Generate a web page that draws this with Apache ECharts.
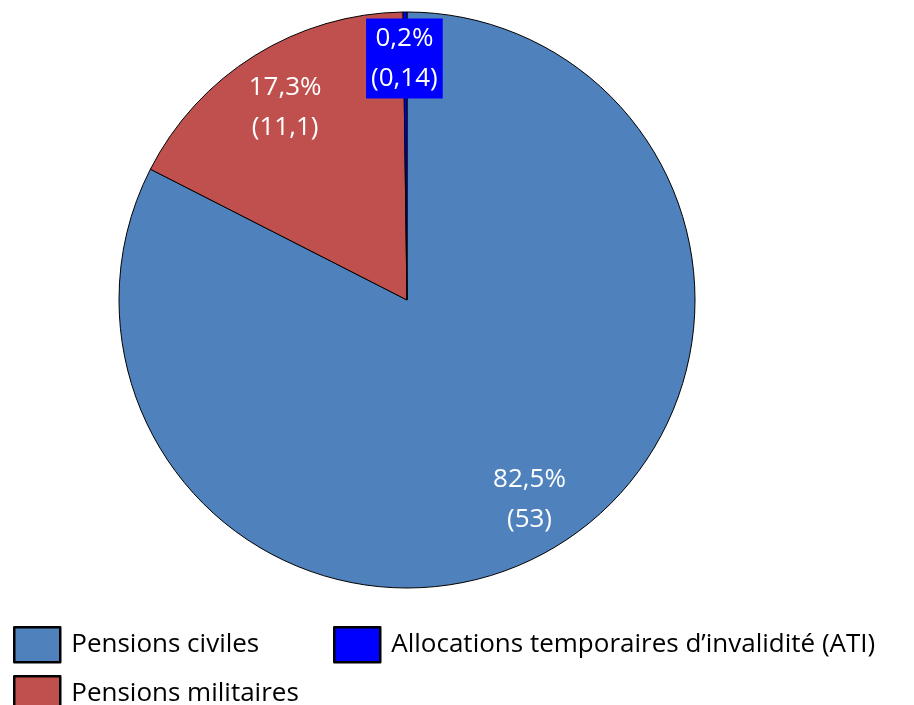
<!DOCTYPE html>
<html>
<head>
<meta charset="utf-8">
<script src="https://cdn.jsdelivr.net/npm/echarts@6/dist/echarts.min.js"></script>
<style>
	html, body { margin: 0; padding: 0; background: #fff; }
	#chart { width: 914px; height: 705px; }
</style>
</head>
<body>
<div id="chart"></div>
<script>
var names = ['Pensions civiles', 'Pensions militaires', 'Allocations temporaires d\u2019invalidité (ATI)'];
var values = [53, 11.1, 0.14];
var percents = ['82,5%', '17,3%', '0,2%'];
var valueLabels = ['53', '11,1', '0,14'];
var colors = ['#4f81bd', '#c0504d', '#0000ff'];

var chart = echarts.init(document.getElementById('chart'));
var font = 'Open Sans';

var pieData = [];
var labelData = [];
for (var i = 0; i < names.length; i++) {
	pieData.push({
		name: names[i],
		value: values[i],
		itemStyle: { color: colors[i] }
	});
	var lbl = {
		show: true,
		position: 'inside',
		color: '#fff',
		fontFamily: font,
		fontSize: 26,
		lineHeight: 40,
		formatter: percents[i] + '\n(' + valueLabels[i] + ')'
	};
	if (i == 1) {
		lbl.offset = [2, 7];
	}
	if (i == 2) {
		// petite part : étiquette sur fond bleu
		lbl.backgroundColor = '#0000ff';
		lbl.padding = [0, 5, 0, 5];
		lbl.offset = [-1, -7];
	}
	labelData.push({
		name: names[i],
		value: values[i],
		itemStyle: { color: 'rgba(0,0,0,0)', borderWidth: 0 },
		label: lbl
	});
}

function legendItem(name, left, top) {
	return {
		data: [name],
		left: left,
		top: top,
		padding: 0,
		itemWidth: 46,
		itemHeight: 35,
		itemGap: 0,
		selectedMode: false,
		icon: 'rect',
		itemStyle: { borderColor: '#000', borderWidth: 2.5 },
		textStyle: { fontFamily: font, fontSize: 26, color: '#000', padding: [0, 0, 0, 6] }
	};
}

var option = {
	animation: false,
	legend: [
		legendItem(names[0], 13, 626),
		legendItem(names[2], 333, 626),
		legendItem(names[1], 13, 675)
	],
	series: [{
		type: 'pie',
		center: [407, 300],
		radius: 288,
		startAngle: 90,
		clockwise: true,
		silent: true,
		label: { show: false },
		labelLine: { show: false },
		itemStyle: { borderColor: '#000', borderWidth: 1 },
		data: pieData
	}, {
		// série transparente pour placer les étiquettes à ~80% du rayon
		type: 'pie',
		center: [407, 300],
		radius: [175, 288],
		startAngle: 90,
		clockwise: true,
		silent: true,
		legendHoverLink: false,
		labelLine: { show: false },
		data: labelData
	}]
};

chart.setOption(option);
</script>
</body>
</html>
